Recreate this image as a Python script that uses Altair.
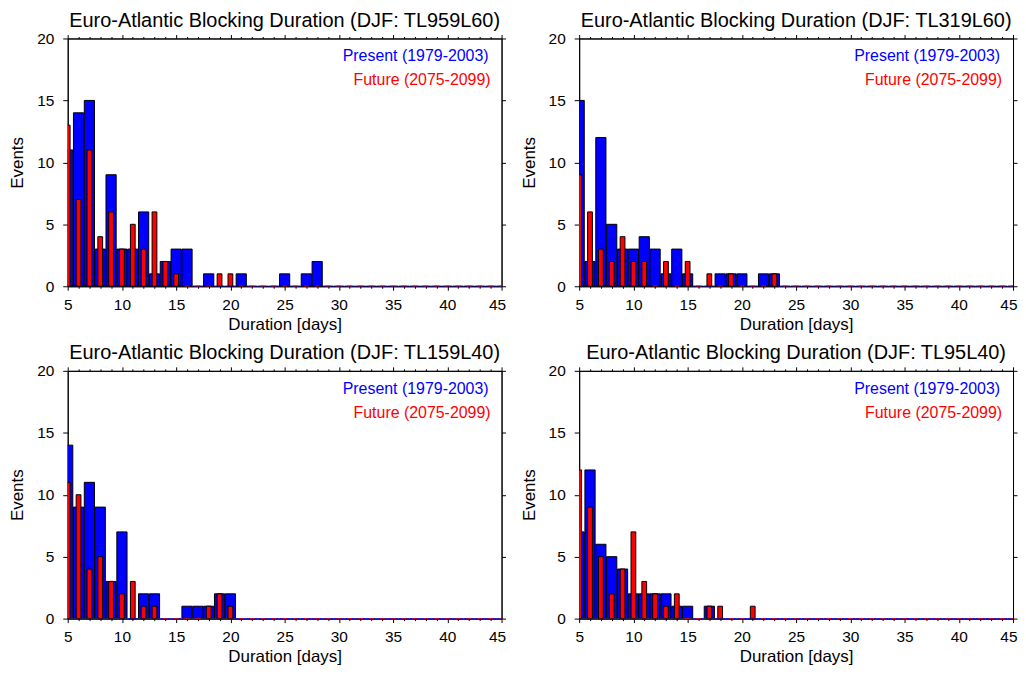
import altair as alt
import pandas as pd

FONT = "Liberation Sans"
DAYS = list(range(5, 46))

TITLES = [
    "Euro-Atlantic Blocking Duration (DJF: TL959L60)",
    "Euro-Atlantic Blocking Duration (DJF: TL319L60)",
    "Euro-Atlantic Blocking Duration (DJF: TL159L40)",
    "Euro-Atlantic Blocking Duration (DJF: TL95L40)",
]
PRESENT_LABEL = "Present (1979-2003)"
FUTURE_LABEL = "Future (2075-2099)"

# counts per duration day, days 5..45
present_959 = [11, 14, 15, 3, 9, 3, 3, 6, 1, 2, 3, 3, 0, 1, 0, 0, 1, 0, 0, 0, 1, 0, 1, 2,
               0, 0, 0, 0, 0, 0, 0, 0, 0, 0, 0, 0, 0, 0, 0, 0, 0]
future_959 = [13, 7, 11, 4, 6, 3, 5, 3, 6, 2, 1, 0, 0, 0, 1, 1,
              0, 0, 0, 0, 0, 0, 0, 0, 0, 0, 0, 0, 0, 0, 0, 0, 0, 0, 0, 0, 0, 0, 0, 0, 0]
present_319 = [15, 2, 12, 5, 3, 3, 4, 3, 1, 3, 1, 0, 0, 1, 1, 1, 0, 1, 1,
               0, 0, 0, 0, 0, 0, 0, 0, 0, 0, 0, 0, 0, 0, 0, 0, 0, 0, 0, 0, 0, 0]
future_319 = [9, 6, 3, 2, 4, 2, 2, 0, 2, 0, 2, 0, 1, 0, 1, 0, 0, 0, 1,
              0, 0, 0, 0, 0, 0, 0, 0, 0, 0, 0, 0, 0, 0, 0, 0, 0, 0, 0, 0, 0, 0]
present_159 = [14, 9, 11, 9, 3, 7, 0, 2, 2, 0, 0, 1, 1, 1, 2, 2,
               0, 0, 0, 0, 0, 0, 0, 0, 0, 0, 0, 0, 0, 0, 0, 0, 0, 0, 0, 0, 0, 0, 0, 0, 0]
future_159 = [11, 10, 4, 5, 3, 2, 3, 1, 1, 0, 0, 0, 0, 1, 2, 1,
              0, 0, 0, 0, 0, 0, 0, 0, 0, 0, 0, 0, 0, 0, 0, 0, 0, 0, 0, 0, 0, 0, 0, 0, 0]
present_95 = [7, 12, 6, 5, 4, 2, 2, 2, 2, 1, 1, 0, 1,
              0, 0, 0, 0, 0, 0, 0, 0, 0, 0, 0, 0, 0, 0, 0, 0, 0, 0, 0, 0, 0, 0, 0, 0, 0, 0, 0, 0]
future_95 = [12, 9, 5, 2, 4, 7, 3, 2, 1, 2, 0, 0, 1, 1, 0, 0, 1,
             0, 0, 0, 0, 0, 0, 0, 0, 0, 0, 0, 0, 0, 0, 0, 0, 0, 0, 0, 0, 0, 0, 0, 0]

Y_TICKS = [0, 5, 10, 15, 20]

W, H = 436, 249
BLUE = "#0000ff"
RED = "#ff0000"

TICK_SIZE = {"condition": {"test": "datum.value % 5 === 0", "value": 4}, "value": 2}
LAST_ALIGN = {"condition": {"test": "datum.value === 45", "value": "right"}, "value": "center"}
LAST_OFFSET = {"condition": {"test": "datum.value === 45", "value": 4}, "value": 0}


def panel(title, present, future):
    dfp = pd.DataFrame({"day": DAYS, "count": present})
    dff = pd.DataFrame({"day": DAYS, "count": future})
    xscale = alt.Scale(domain=[5, 45], nice=False, zero=False, padding=0)
    yscale = alt.Scale(domain=[0, 20], nice=False, padding=0)

    xaxis = alt.Axis(values=DAYS, tickSize=TICK_SIZE,
                     labelExpr="datum.value % 5 === 0 ? datum.label : ''",
                     labelAlign=LAST_ALIGN, labelOffset=LAST_OFFSET,
                     labelOverlap=False, labelFlush=False, labelPadding=7,
                     title="Duration [days]", titlePadding=4, grid=False, orient="bottom")
    yaxis = alt.Axis(values=Y_TICKS, tickSize=5, labelPadding=9, labelFlush=False,
                     title="Events", titlePadding=10, grid=False, orient="left")
    xtop = alt.Axis(values=DAYS, tickSize=TICK_SIZE, labels=False, title=None,
                    grid=False, orient="top")
    yright = alt.Axis(values=Y_TICKS, tickSize=4, labels=False, title=None,
                      grid=False, orient="right")

    blue = alt.Chart(dfp).transform_calculate(
        x0="datum.day - 0.47", x1="datum.day + 0.47", base="0"
    ).mark_bar(clip=True, fill=BLUE, strokeWidth=1, orient="vertical").encode(
        x=alt.X("x0:Q", scale=xscale, axis=xaxis),
        x2="x1:Q",
        y=alt.Y("count:Q", scale=yscale, axis=yaxis, stack=None),
        y2="base:Q",
        stroke=alt.condition("datum.count == 0", alt.value(BLUE), alt.value("black")),
    )
    red = alt.Chart(dff).transform_calculate(
        x0="datum.day - 0.22", x1="datum.day + 0.22", base="0"
    ).mark_bar(clip=True, fill=RED, strokeWidth=1, orient="vertical").encode(
        x=alt.X("x0:Q", scale=xscale, axis=None),
        x2="x1:Q",
        y=alt.Y("count:Q", scale=yscale, axis=None, stack=None),
        y2="base:Q",
        stroke=alt.condition("datum.count == 0", alt.value(RED), alt.value("black")),
    )
    frame = alt.Chart(dfp).mark_point(opacity=0).encode(
        x=alt.X("day:Q", scale=xscale, axis=xtop),
        y=alt.Y("count:Q", scale=yscale, axis=yright),
    )
    head = alt.Chart(pd.DataFrame({"t": [title]})).mark_text(
        align="center", baseline="middle", fontSize=20, font=FONT, color="black"
    ).encode(text="t:N", x=alt.value(W / 2), y=alt.value(-18))
    t1 = alt.Chart(pd.DataFrame({"t": [PRESENT_LABEL]})).mark_text(
        align="right", baseline="middle", fontSize=16, font=FONT, color=BLUE
    ).encode(text="t:N", x=alt.value(W - 13), y=alt.value(18))
    t2 = alt.Chart(pd.DataFrame({"t": [FUTURE_LABEL]})).mark_text(
        align="right", baseline="middle", fontSize=16, font=FONT, color=RED
    ).encode(text="t:N", x=alt.value(W - 11), y=alt.value(42))

    return alt.layer(blue, red, frame, head, t1, t2).resolve_axis(
        x="independent", y="independent"
    ).properties(width=W, height=H)


p1 = panel(TITLES[0], present_959, future_959)
p2 = panel(TITLES[1], present_319, future_319)
p3 = panel(TITLES[2], present_159, future_159)
p4 = panel(TITLES[3], present_95, future_95)

chart = alt.vconcat(
    alt.hconcat(p1, p2, spacing=13),
    alt.hconcat(p3, p4, spacing=13),
    spacing=9,
).properties(
    padding={"left": 0, "top": 0, "right": 0, "bottom": 0}
).configure_view(
    stroke="black", strokeWidth=1
).configure_axis(
    domainColor="black", tickColor="black", labelColor="black", titleColor="black",
    labelFont=FONT, titleFont=FONT, labelFontSize=15.5, titleFontSize=17,
    titleFontWeight="normal", domainWidth=1, tickWidth=1,
)

chart.save("out.html", embed_options={"renderer": "svg", "actions": False})
